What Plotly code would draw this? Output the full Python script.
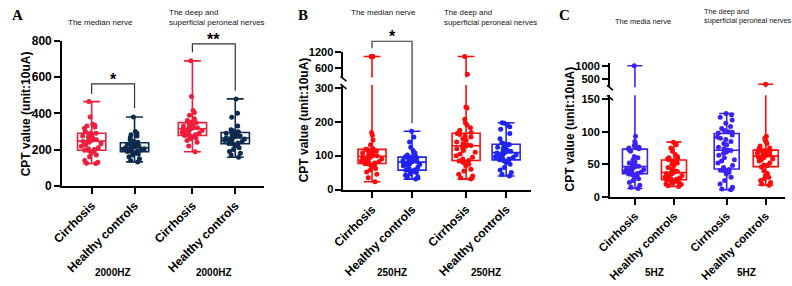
import numpy as np
import plotly.graph_objects as go

W, H = 792, 286

# ---------------- data ----------------
POS = [0.0, 1.0, 2.35, 3.35]
TICK_TEXT = ["Cirrhosis", "Healthy controls", "Cirrhosis", "Healthy controls"]

# Panel A (2000HZ)
a_cirr_med = [465, 380, 340, 335, 330, 325, 318, 300, 292, 290, 285, 280, 275, 270, 262, 255, 250, 248,
              245, 240, 232, 225, 218, 210, 205, 200, 197, 195, 190, 180, 170, 160, 140, 130, 125, 123]
a_hc_med = [380, 300, 290, 282, 275, 265, 255, 245, 240, 236, 233, 230, 226, 222, 218, 215, 212, 210,
            208, 205, 202, 200, 198, 195, 192, 190, 188, 185, 180, 175, 170, 160, 150, 140, 132]
a_cirr_per = [690, 493, 416, 405, 390, 370, 360, 355, 352, 348, 340, 335, 330, 325, 322, 320, 318, 316,
              314, 310, 305, 300, 295, 290, 285, 282, 278, 276, 274, 270, 265, 260, 250, 240, 220, 188]
a_hc_per = [480, 400, 378, 330, 310, 305, 300, 298, 295, 292, 290, 285, 280, 275, 272, 268, 266, 262,
            258, 255, 250, 245, 240, 236, 234, 232, 228, 220, 210, 200, 190, 180, 170, 158]

# Panel B (250HZ)
b_cirr_med = [1000, 1000, 1000, 1000, 168, 160, 146, 132, 121, 119, 118, 116, 114, 112, 110, 108, 105,
              102, 100, 98, 97, 95, 92, 90, 88, 85, 82, 80, 78, 76, 75, 72, 68, 62, 58, 52, 45, 35, 23]
b_hc_med = [172, 155, 140, 125, 115, 108, 102, 98, 97, 96, 95, 93, 90, 88, 86, 85, 84, 83, 82, 80, 78,
            76, 74, 72, 70, 66, 62, 58, 57, 56, 55, 52, 50, 46, 42, 38, 35, 31]
b_cirr_per = [1000, 458, 243, 240, 207, 197, 190, 182, 175, 168, 165, 162, 158, 155, 150, 145, 140, 135,
              132, 130, 128, 125, 120, 115, 110, 105, 100, 95, 90, 86, 84, 80, 75, 70, 60, 55, 45, 40, 35, 31]
b_hc_per = [197, 195, 190, 185, 178, 165, 150, 138, 135, 133, 130, 128, 125, 120, 116, 113, 111, 110,
            108, 105, 102, 100, 97, 95, 92, 90, 88, 86, 85, 80, 75, 65, 58, 50, 45, 40]

# Panel C (5HZ)
c_cirr_med = [1000, 93, 85, 82, 79, 78, 77, 76, 75, 74, 73, 70, 62, 60, 57, 54, 52, 50, 48, 47, 46, 45,
              44, 43, 42, 40, 39, 38, 37, 36, 35, 34, 32, 30, 28, 25, 22, 18, 15, 13]
c_hc_med = [84, 80, 75, 70, 65, 62, 60, 59, 58, 57, 55, 52, 50, 48, 45, 42, 40, 39, 38, 37, 36, 35, 33,
            31, 30, 29, 28, 27, 26, 25, 24, 23, 22, 21, 20, 19, 17, 16]
c_cirr_per = [128, 126, 122, 118, 113, 108, 105, 102, 100, 99, 98, 95, 92, 90, 88, 85, 82, 80, 76, 74,
              72, 71, 69, 67, 64, 60, 57, 55, 52, 48, 45, 42, 41, 40, 38, 35, 30, 25, 20, 15, 12, 11]
c_hc_per = [380, 93, 90, 87, 85, 82, 78, 75, 74, 72, 71, 70, 69, 68, 67, 66, 65, 64, 63, 62, 61, 60, 58,
            57, 55, 52, 49, 48, 46, 40, 36, 33, 30, 28, 25, 22, 20, 18]

a_ticks = [0, 200, 400, 600, 800]
b_ticks_low = [0, 100, 200, 300]
b_ticks_up = [600, 1200]
c_ticks_low = [0, 50, 100, 150]
c_ticks_up = [500, 1000]
freq_labels = ["2000HZ", "250HZ", "5HZ"]
nerve_median = ["The median nerve", "The median nerve", "The media nerve"]
nerve_deep = "The deep and<br>superficial peroneal nerves"
y_title = "CPT value (unit:10uA)"
panel_letters = ["A", "B", "C"]

# significance (A in data units)
a_brackets = [(0, 1, 507, 563, 428, "*"), (2, 3, 738, 784, 525, "**")]

# ---------------- style ----------------
A_RED, A_NAVY = "#EE1E3C", "#0D2B4C"
B_RED, B_BLUE = "#FF0A0A", "#2024F2"
C_BLUE, C_RED = "#3C22F4", "#FF0A0A"
FONT = "Liberation Sans"


def px_y(p):
    return 1 - p / H


def px_x(p):
    return p / W


fig = go.Figure()


def add_group(vals, pos, color, xa, ya, width):
    q1, med, q3 = np.percentile(vals, [25, 50, 75])
    fig.add_trace(go.Box(
        x=[pos], q1=[q1], median=[med], q3=[q3],
        lowerfence=[min(vals)], upperfence=[max(vals)],
        orientation="v", boxpoints=False, width=width, whiskerwidth=0.6,
        line=dict(color=color, width=1.6), fillcolor="rgba(0,0,0,0)",
        xaxis=xa, yaxis=ya, showlegend=False, hoverinfo="skip"))
    fig.add_trace(go.Box(
        x=[pos] * len(vals), y=vals, orientation="v",
        boxpoints="all", jitter=0.8, pointpos=0, width=width, whiskerwidth=0,
        line=dict(color="rgba(0,0,0,0)", width=0), fillcolor="rgba(0,0,0,0)",
        marker=dict(color=color, size=5),
        xaxis=xa, yaxis=ya, showlegend=False, hoverinfo="skip"))


# Panel A
for vals, pos, col in zip([a_cirr_med, a_hc_med, a_cirr_per, a_hc_per], POS,
                          [A_RED, A_NAVY, A_RED, A_NAVY]):
    add_group(vals, pos, col, "x", "y", 0.66)

# Panel B (lower + upper segment)
for vals, pos, col in zip([b_cirr_med, b_hc_med, b_cirr_per, b_hc_per], POS,
                          [B_RED, B_BLUE, B_RED, B_BLUE]):
    add_group(vals, pos, col, "x2", "y2", 0.70)
    add_group(vals, pos, col, "x3", "y3", 0.70)

# Panel C (lower + upper segment)
for vals, pos, col in zip([c_cirr_med, c_hc_med, c_cirr_per, c_hc_per], POS,
                          [C_BLUE, C_RED, C_BLUE, C_RED]):
    add_group(vals, pos, col, "x4", "y4", 0.64)
    add_group(vals, pos, col, "x5", "y5", 0.64)


def yax(size, **kw):
    d = dict(showline=True, linecolor="black", linewidth=2, ticks="outside", ticklen=6,
             tickwidth=2, tickcolor="black", showgrid=False, zeroline=False,
             tickfont=dict(family=FONT, size=size, color="black", weight="bold"))
    d.update(kw)
    return d


def xax(size, **kw):
    d = dict(showline=True, linecolor="black", linewidth=2, ticks="outside", ticklen=6,
             tickwidth=2, tickcolor="black", showgrid=False, zeroline=False,
             tickmode="array", tickvals=POS, ticktext=TICK_TEXT, tickangle=-45,
             tickfont=dict(family=FONT, size=size, color="black", weight="bold"))
    d.update(kw)
    return d


hidden_x = dict(visible=False, showgrid=False, zeroline=False)

fig.update_layout(
    width=W, height=H, margin=dict(l=0, r=0, t=0, b=0),
    paper_bgcolor="white", plot_bgcolor="white", showlegend=False, boxmode="overlay",
    xaxis=xax(12, domain=[px_x(50), px_x(255)], range=[-0.688, 4.016], anchor="y"),
    yaxis=yax(12, domain=[px_y(188), px_y(35.7)], range=[0, 800], tickvals=a_ticks, anchor="x"),
    xaxis2=xax(12, domain=[px_x(336), px_x(527)], range=[-0.713, 3.98], anchor="y2"),
    yaxis2=yax(11, domain=[px_y(192), px_y(82)], range=[0, 308], tickvals=b_ticks_low, anchor="x2"),
    xaxis3=dict(hidden_x, domain=[px_x(336), px_x(527)], range=[-0.713, 3.98], anchor="y3"),
    yaxis3=yax(11, type="log", domain=[px_y(74), px_y(47.7)], range=[2.602, 3.0792],
               tickvals=b_ticks_up, ticktext=[str(t) for t in b_ticks_up], anchor="x3"),
    xaxis4=xax(11.5, domain=[px_x(607), px_x(785)], range=[-0.637, 3.846], anchor="y4"),
    yaxis4=yax(11, domain=[px_y(199.7), px_y(92.7)], range=[0, 156], tickvals=c_ticks_low, anchor="x4"),
    xaxis5=dict(hidden_x, domain=[px_x(607), px_x(785)], range=[-0.637, 3.846], anchor="y5"),
    yaxis5=yax(11, type="log", domain=[px_y(84.5), px_y(59)], range=[2.5097, 3.058],
               tickvals=c_ticks_up, ticktext=[str(t) for t in c_ticks_up], anchor="x5"),
)

shapes = []
ann = []
star_font = dict(family=FONT, size=16, color="black", weight="bold")

# significance brackets - panel A (data coords)
for i, j, yl, yt, yr, star in a_brackets:
    shapes.append(dict(type="path", xref="x", yref="y",
                       path=f"M {POS[i]},{yl} L {POS[i]},{yt} L {POS[j]},{yt} L {POS[j]},{yr}",
                       line=dict(color="#333333", width=1.2)))
ann.append(dict(text="*", x=(POS[0] + POS[1]) / 2, xref="x", y=px_y(76), yref="paper",
                showarrow=False, xanchor="center", yanchor="middle", font=star_font))
ann.append(dict(text="**", x=(POS[2] + POS[3]) / 2, xref="x", y=px_y(34), yref="paper",
                showarrow=False, xanchor="center", yanchor="middle", font=star_font))
# panel B bracket
shapes.append(dict(type="path", xref="x2", yref="paper",
                   path=f"M {POS[0]},{px_y(43.3)} L {POS[0]},{px_y(36)} L {POS[1]},{px_y(36)} L {POS[1]},{px_y(122.3)}",
                   line=dict(color="#333333", width=1.2)))
ann.append(dict(text="*", x=(POS[0] + POS[1]) / 2, xref="x2", y=px_y(31), yref="paper",
                showarrow=False, xanchor="center", yanchor="middle", font=star_font))

# axis break marks
for ax_x, ys in [(336, [75.5, 83.5]), (607, [85, 95.5])]:
    for yy in ys:
        shapes.append(dict(type="line", xref="paper", yref="paper",
                           x0=px_x(ax_x - 3), y0=px_y(yy - 2.5), x1=px_x(ax_x + 3), y1=px_y(yy + 2.5),
                           line=dict(color="black", width=1.6)))

# panel letters
for letter, (lx, ly) in zip(panel_letters, [(5, 8), (295, 8), (561, 8)]):
    ann.append(dict(text=f"<b>{letter}</b>", x=px_x(lx), y=px_y(ly), xref="paper", yref="paper",
                    showarrow=False, xanchor="center", yanchor="middle",
                    font=dict(family="Liberation Serif", size=15, color="black")))

# nerve subtitles
for txt, (sx, sy), fs in zip(nerve_median, [(54, 16), (342, 6), (610, 15)], [8, 8, 7.5]):
    ann.append(dict(text=txt, x=px_x(sx), y=px_y(sy), xref="paper", yref="paper", showarrow=False,
                    xanchor="left", yanchor="middle",
                    font=dict(family=FONT, size=fs, color="#111111")))
for (sx, sy), fs in zip([(157, 11), (436, 11), (701, 9)], [8, 7.8, 7.3]):
    ann.append(dict(text=nerve_deep, x=px_x(sx), y=px_y(sy), xref="paper", yref="paper",
                    showarrow=False, xanchor="left", yanchor="middle", align="left",
                    font=dict(family=FONT, size=fs, color="#111111")))

# y titles
for tx, ty in [(13, 112), (296, 119), (566, 128)]:
    ann.append(dict(text=y_title, x=px_x(tx), y=px_y(ty), xref="paper", yref="paper",
                    showarrow=False, textangle=-90, xanchor="center", yanchor="middle",
                    font=dict(family=FONT, size=12, color="black", weight="bold")))

# frequency labels
for lab, xr in zip(freq_labels, ["x", "x2", "x4"]):
    for a, b in [(0, 1), (2, 3)]:
        ann.append(dict(text=lab, x=(POS[a] + POS[b]) / 2, xref=xr, y=px_y(279), yref="paper",
                        showarrow=False, xanchor="center", yanchor="middle",
                        font=dict(family=FONT, size=10, color="black", weight="bold")))

fig.update_layout(shapes=shapes, annotations=ann)
fig.write_html("out.html")
